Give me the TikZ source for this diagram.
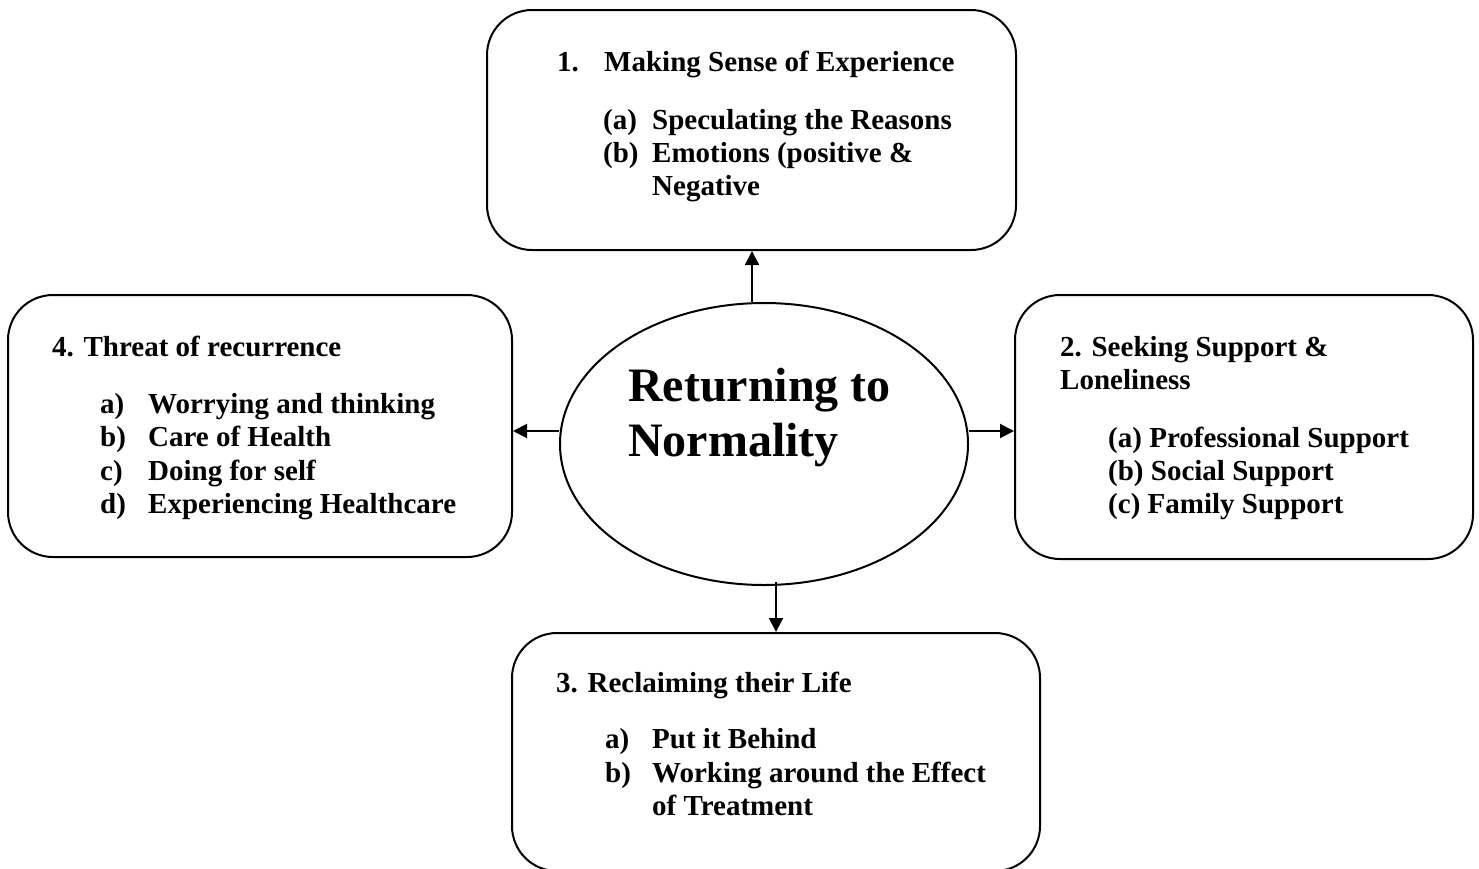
\documentclass[tikz,border=0pt]{standalone}
\usepackage{fontspec}
\setmainfont{Liberation Serif}
\usetikzlibrary{arrows.meta,shapes.geometric}
\begin{document}
\begin{tikzpicture}[x=1pt,y=-1pt,
  box/.style={draw, line width=2pt, rounded corners=45pt, inner sep=0pt},
  ellbox/.style={draw, ellipse, line width=2pt, inner sep=0pt},
  txt/.style={anchor=base west, inner sep=0pt, font=\fontsize{29}{33}\selectfont\bfseries},
  ttl/.style={anchor=base west, inner sep=0pt, font=\fontsize{48}{55}\selectfont\bfseries},
  arr/.style={line width=2pt, -{Triangle[length=14pt,width=14pt]}}]
\useasboundingbox (0,0) rectangle (1479,868);

% boxes
\node[box, minimum width=529pt, minimum height=240pt] (b1) at (751.5,130) {};
\node[box, minimum width=504pt, minimum height=262pt] (b4) at (260,426) {};
\node[box, minimum width=458pt, minimum height=264pt] (b2) at (1244,427) {};
\node[box, minimum width=528pt, minimum height=238pt] (b3) at (776,752) {};
\node[ellbox, minimum width=408pt, minimum height=282pt] (ell) at (764,444) {};

% centre title
\node[ttl] (t1) at (628,401) {Returning to};
\node[ttl] (t2) at (628,456) {Normality};

% box 1
\node[txt] (a0n) at (557,71) {1.};
\node[txt] (a0) at (604,71) {Making Sense of Experience};
\node[txt] (a1n) at (603,129) {(a)};
\node[txt] (a1) at (652,129) {Speculating the Reasons};
\node[txt] (a2n) at (603,162) {(b)};
\node[txt] (a2) at (652,162) {Emotions (positive \&};
\node[txt] (a3) at (652,195) {Negative};

% box 4
\node[txt] (d0) at (52,356) {4. Threat of recurrence};
\node[txt] (d1n) at (100,413) {a)};
\node[txt] (d1) at (148,413) {Worrying and thinking};
\node[txt] (d2n) at (100,446) {b)};
\node[txt] (d2) at (148,446) {Care of Health};
\node[txt] (d3n) at (100,480) {c)};
\node[txt] (d3) at (148,480) {Doing for self};
\node[txt] (d4n) at (100,513) {d)};
\node[txt] (d4) at (148,513) {Experiencing Healthcare};

% box 2
\node[txt] (s0) at (1060,356) {2. Seeking Support \&};
\node[txt] (s0b) at (1060,389) {Loneliness};
\node[txt] (s1) at (1108,447) {(a) Professional Support};
\node[txt] (s2) at (1108,480) {(b) Social Support};
\node[txt] (s3) at (1108,513) {(c) Family Support};

% box 3
\node[txt] (r0) at (556,692) {3. Reclaiming their Life};
\node[txt] (r1n) at (605,748) {a)};
\node[txt] (r1) at (652,748) {Put it Behind};
\node[txt] (r2n) at (605,782) {b)};
\node[txt] (r2) at (652,782) {Working around the Effect};
\node[txt] (r3) at (652,815) {of Treatment};

% connectors
\draw[arr] ([xshift=-12pt]ell.north) -- ([xshift=-12pt]ell.north |- b1.south);
\draw[arr] ([yshift=13pt]ell.west) -- ([yshift=13pt]ell.west -| b4.east);
\draw[arr] ([yshift=13pt]ell.east) -- ([yshift=13pt]ell.east -| b2.west);
\draw[arr] ([xshift=12pt,yshift=4pt]ell.south) -- ([xshift=12pt]ell.south |- b3.north);
\end{tikzpicture}
\end{document}
